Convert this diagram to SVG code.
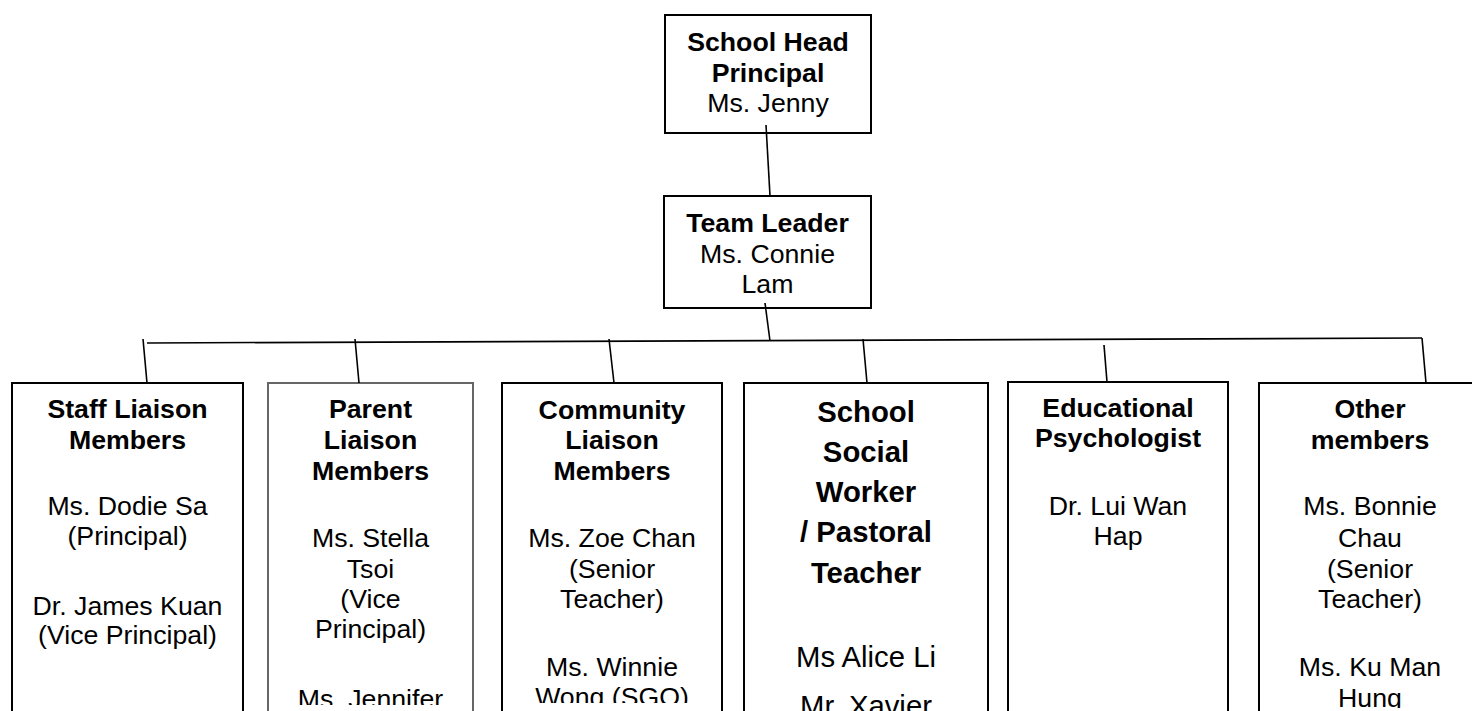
<svg xmlns="http://www.w3.org/2000/svg" width="1472" height="711" viewBox="0 0 1472 711">
<style>
  text { font-family: "Liberation Sans", Arial, sans-serif; font-size: 26.7px; fill: #000; text-anchor: middle; }
  .b { font-weight: bold; }
  .big { font-size: 29.3px; }
  .box { fill: #fff; stroke: #000; stroke-width: 2; }
  .gbox { fill: #fff; stroke: #666; stroke-width: 2; }
  .con line { stroke: #000; stroke-width: 1.6; }
</style>
<defs>
  <clipPath id="cTop"><rect x="665" y="15" width="206" height="105"/></clipPath>
  <clipPath id="cParent"><rect x="268" y="383" width="205" height="322"/></clipPath>
  <clipPath id="cComm"><rect x="502" y="383" width="220" height="320"/></clipPath>
  <clipPath id="cOther"><rect x="1259" y="383" width="213" height="325"/></clipPath>
</defs>
<rect width="1472" height="711" fill="#fff"/>

<g id="head">
  <rect class="box" x="665" y="15" width="206" height="118"/>
  <g clip-path="url(#cTop)">
    <text class="b" x="768" y="51">School Head</text>
    <text class="b" x="768" y="82">Principal</text>
    <text x="768" y="112">Ms. Jenny</text>
  </g>
</g>

<g id="leader">
  <rect class="box" x="664" y="196" width="207" height="112"/>
  <text class="b" x="767.5" y="232">Team Leader</text>
  <text x="767.5" y="263">Ms. Connie</text>
  <text x="767.5" y="293">Lam</text>
</g>

<g id="staff">
  <rect class="box" x="12" y="383" width="231" height="350"/>
  <text class="b" x="127.5" y="418">Staff Liaison</text>
  <text class="b" x="127.5" y="449">Members</text>
  <text x="127.5" y="515">Ms. Dodie Sa</text>
  <text x="127.5" y="545">(Principal)</text>
  <text x="127.5" y="615">Dr. James Kuan</text>
  <text x="127.5" y="644">(Vice Principal)</text>
</g>

<g id="parent">
  <rect class="gbox" x="268" y="383" width="205" height="350"/>
  <g clip-path="url(#cParent)">
    <text class="b" x="370.5" y="418">Parent</text>
    <text class="b" x="370.5" y="449">Liaison</text>
    <text class="b" x="370.5" y="480">Members</text>
    <text x="370.5" y="547">Ms. Stella</text>
    <text x="370.5" y="578">Tsoi</text>
    <text x="370.5" y="608">(Vice</text>
    <text x="370.5" y="638">Principal)</text>
    <text x="370.5" y="708">Ms. Jennifer</text>
  </g>
</g>

<g id="community">
  <rect class="box" x="502" y="383" width="220" height="350"/>
  <g clip-path="url(#cComm)">
    <text class="b" x="612" y="419">Community</text>
    <text class="b" x="612" y="449">Liaison</text>
    <text class="b" x="612" y="480">Members</text>
    <text x="612" y="547">Ms. Zoe Chan</text>
    <text x="612" y="578">(Senior</text>
    <text x="612" y="608">Teacher)</text>
    <text x="612" y="676">Ms. Winnie</text>
    <text x="612" y="706">Wong (SGO)</text>
  </g>
</g>

<g id="social">
  <rect class="box" x="744" y="383" width="244" height="350"/>
  <text class="b big" x="866" y="422">School</text>
  <text class="b big" x="866" y="462">Social</text>
  <text class="b big" x="866" y="502">Worker</text>
  <text class="b big" x="866" y="542">/ Pastoral</text>
  <text class="b big" x="866" y="583">Teacher</text>
  <text class="big" x="866" y="667">Ms Alice Li</text>
  <text class="big" x="866" y="716">Mr. Xavier</text>
</g>

<g id="psych">
  <rect class="box" x="1008" y="382" width="220" height="350"/>
  <text class="b" x="1118" y="417">Educational</text>
  <text class="b" x="1118" y="447">Psychologist</text>
  <text x="1118" y="515">Dr. Lui Wan</text>
  <text x="1118" y="545">Hap</text>
</g>

<g id="other">
  <rect class="box" x="1259" y="383" width="250" height="350"/>
  <g clip-path="url(#cOther)">
    <text class="b" x="1370" y="418">Other</text>
    <text class="b" x="1370" y="449">members</text>
    <text x="1370" y="515">Ms. Bonnie</text>
    <text x="1370" y="547">Chau</text>
    <text x="1370" y="578">(Senior</text>
    <text x="1370" y="608">Teacher)</text>
    <text x="1370" y="676">Ms. Ku Man</text>
    <text x="1370" y="707">Hung</text>
  </g>
</g>

<g id="connectors" class="con">
  <line x1="766" y1="125" x2="770" y2="196"/>
  <line x1="765" y1="303" x2="770" y2="341"/>
  <line x1="147" y1="343" x2="1422" y2="338"/>
  <line x1="143" y1="339" x2="147" y2="383"/>
  <line x1="355" y1="339" x2="359" y2="383"/>
  <line x1="609" y1="339" x2="614" y2="383"/>
  <line x1="863" y1="339" x2="867" y2="383"/>
  <line x1="1104" y1="345" x2="1107" y2="382"/>
  <line x1="1422" y1="338" x2="1426" y2="383"/>
</g>
</svg>
